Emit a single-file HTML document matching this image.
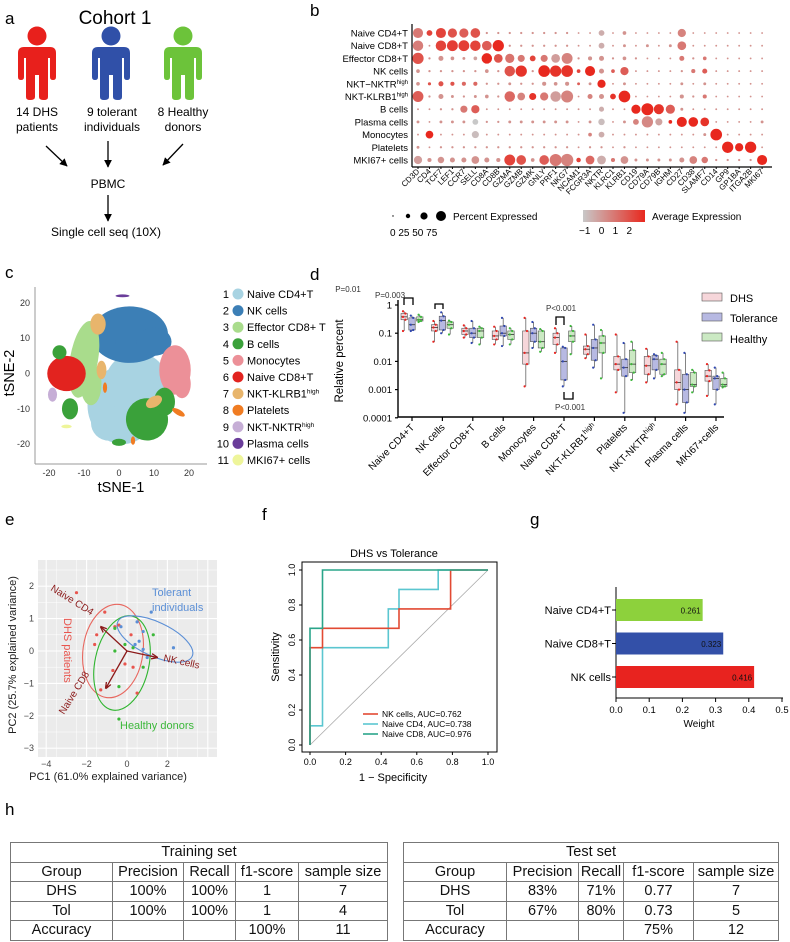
<!DOCTYPE html>
<html><head><meta charset="utf-8">
<style>
body{margin:0;background:#fff;}
#wrap{position:relative;width:790px;height:942px;overflow:hidden;font-family:"Liberation Sans",Arial,sans-serif;}
svg{position:absolute;left:0;top:0;}
svg text{font-family:"Liberation Sans",Arial,sans-serif;}
table{position:absolute;border-collapse:collapse;font-size:14.5px;color:#111;}
td{border:1px solid #777;text-align:center;padding:0;height:18.5px;line-height:18px;white-space:nowrap;}
</style></head>
<body>
<div id="wrap">
<svg id="s" width="790" height="942" viewBox="0 0 790 942">
<defs>
<marker id="ah" viewBox="0 0 10 10" refX="9" refY="5" markerWidth="6" markerHeight="6" orient="auto"><path d="M0,0 L10,5 L0,10 z" fill="#000"/></marker>
<marker id="ah2" viewBox="0 0 10 10" refX="9" refY="5" markerWidth="5" markerHeight="5" orient="auto"><path d="M0,1 L10,5 L0,9" fill="none" stroke="#8b1a1a" stroke-width="2"/></marker>
<linearGradient id="expg" x1="0" x2="1"><stop offset="0" stop-color="#c8c8c8"/><stop offset="1" stop-color="#e8281e"/></linearGradient>
</defs>

<g>
<text x="5" y="24" font-size="17">a</text>
<text x="115" y="24" font-size="19" text-anchor="middle">Cohort 1</text>
<g id="people"></g>
<text x="37" y="116" font-size="12" text-anchor="middle">14 DHS</text>
<text x="37" y="131" font-size="12" text-anchor="middle">patients</text>
<text x="112" y="116" font-size="12" text-anchor="middle">9 tolerant</text>
<text x="112" y="131" font-size="12" text-anchor="middle">individuals</text>
<text x="183" y="116" font-size="12" text-anchor="middle">8 Healthy</text>
<text x="183" y="131" font-size="12" text-anchor="middle">donors</text>
<line x1="46" y1="146" x2="67" y2="166" stroke="#000" stroke-width="1.3" marker-end="url(#ah)"/>
<line x1="108" y1="141" x2="108" y2="167" stroke="#000" stroke-width="1.3" marker-end="url(#ah)"/>
<line x1="183" y1="144" x2="163" y2="165" stroke="#000" stroke-width="1.3" marker-end="url(#ah)"/>
<text x="108" y="188" font-size="12" text-anchor="middle">PBMC</text>
<line x1="108" y1="195" x2="108" y2="221" stroke="#000" stroke-width="1.3" marker-end="url(#ah)"/>
<text x="106" y="236" font-size="12" text-anchor="middle">Single cell seq (10X)</text>
</g>

<g>
<text x="310" y="16" font-size="17">b</text>
<g id="dotplot"></g>
<line x1="412" y1="24" x2="412" y2="167" stroke="#000" stroke-width="1.2"/>
<line x1="412" y1="167" x2="772" y2="167" stroke="#000" stroke-width="1.2"/>
<g>
<circle cx="393" cy="216" r="0.7" fill="#000"/><circle cx="408" cy="216" r="2.2" fill="#000"/><circle cx="424" cy="216" r="3.6" fill="#000"/><circle cx="441" cy="216" r="5" fill="#000"/>
<text x="453" y="220" font-size="10">Percent Expressed</text>
<text x="390" y="236" font-size="10">0 25 50 75</text>
</g>
<g>
<rect x="583" y="210" width="62" height="12" fill="url(#expg)"/>
<text x="652" y="220" font-size="10">Average Expression</text>
<text x="579" y="234" font-size="10">−1&#160;&#160;&#160;0&#160;&#160;&#160;1&#160;&#160;&#160;2</text>
</g>
</g>

<g>
<text x="5" y="278" font-size="17">c</text>
<g id="tsne"></g>
<line x1="35" y1="287" x2="35" y2="464" stroke="#999" stroke-width="1"/>
<line x1="35" y1="464" x2="207" y2="464" stroke="#999" stroke-width="1"/>
<text x="121" y="492" font-size="14.5" text-anchor="middle">tSNE-1</text>
<text transform="translate(14,373) rotate(-90)" font-size="14.5" text-anchor="middle">tSNE-2</text>
<g id="tsneLegend"></g>
</g>

<g>
<text x="310" y="280" font-size="17">d</text>
<g id="boxes"></g>
<text transform="translate(343,361) rotate(-90)" font-size="11.5" text-anchor="middle">Relative percent</text>
<g font-size="11">
<rect x="702" y="293" width="20" height="8" fill="#f6d6da" stroke="#555" stroke-width="0.6"/><text x="730" y="302">DHS</text>
<rect x="702" y="313" width="20" height="8" fill="#b7b9e2" stroke="#555" stroke-width="0.6"/><text x="730" y="322">Tolerance</text>
<rect x="702" y="333" width="20" height="8" fill="#cbe9c3" stroke="#555" stroke-width="0.6"/><text x="730" y="343">Healthy</text>
</g>
<g font-size="8" fill="#333">
<text x="348" y="292" text-anchor="middle">P=0.01</text>
<path d="M404,305 V298 H413 V305" fill="none" stroke="#000" stroke-width="1.3"/>
<text x="390" y="298" text-anchor="middle">P=0.003</text>
<path d="M435,309 V304 H443 V309" fill="none" stroke="#000" stroke-width="1.3"/>
<text x="561" y="311" text-anchor="middle">P&lt;0.001</text>
<path d="M556,325 V317 H564 V325" fill="none" stroke="#000" stroke-width="1.3"/>
<path d="M564,392 V399 H573 V392" fill="none" stroke="#000" stroke-width="1.3"/>
<text x="570" y="410" text-anchor="middle">P&lt;0.001</text>
</g>
</g>

<g>
<text x="5" y="525" font-size="17">e</text>
<g id="pca"></g>
<text x="108" y="780" font-size="11" text-anchor="middle" fill="#222">PC1 (61.0% explained variance)</text>
<text transform="translate(16,655) rotate(-90)" font-size="11" text-anchor="middle" fill="#222">PC2 (25.7% explained variance)</text>
</g>

<g>
<text x="262" y="520" font-size="17">f</text>
<text x="394" y="557" font-size="11" text-anchor="middle">DHS vs Tolerance</text>
<g id="roc"></g>
<text x="393" y="781" font-size="11" text-anchor="middle">1 − Specificity</text>
<text transform="translate(279,657) rotate(-90)" font-size="11" text-anchor="middle">Sensitivity</text>
</g>

<g>
<text x="530" y="525" font-size="17">g</text>
<g id="bars"></g>
<text x="699" y="727" font-size="10" text-anchor="middle">Weight</text>
</g>

<text x="5" y="815" font-size="17">h</text>
</svg>

<table style="left:10px;top:842px;width:378px;">
<tr><td colspan="5">Training set</td></tr>
<tr><td style="width:101px">Group</td><td style="width:70px">Precision</td><td style="width:51px">Recall</td><td style="width:62px">f1-score</td><td>sample size</td></tr>
<tr><td>DHS</td><td>100%</td><td>100%</td><td>1</td><td>7</td></tr>
<tr><td>Tol</td><td>100%</td><td>100%</td><td>1</td><td>4</td></tr>
<tr><td>Accuracy</td><td></td><td></td><td>100%</td><td>11</td></tr>
</table>
<table style="left:403px;top:842px;width:376px;">
<tr><td colspan="5">Test set</td></tr>
<tr><td style="width:102px">Group</td><td style="width:71px">Precision</td><td style="width:44px">Recall</td><td style="width:69px">f1-score</td><td>sample size</td></tr>
<tr><td>DHS</td><td>83%</td><td>71%</td><td>0.77</td><td>7</td></tr>
<tr><td>Tol</td><td>67%</td><td>80%</td><td>0.73</td><td>5</td></tr>
<tr><td>Accuracy</td><td></td><td></td><td>75%</td><td>12</td></tr>
</table>
</div>

<script>
const cellTypes = ["Naive CD4+T","Naive CD8+T","Effector CD8+T","NK cells","NKT\u2212NKTR","NKT-KLRB1","B cells","Plasma cells","Monocytes","Platelets","MKI67+ cells"];
const genes = ["CD3D","CD4","TCF7","LEF1","CCR7","SELL","CD8A","CD8B","GZMA","GZMB","GZMK","GNLY","PRF1","NKG7","NCAM1","FCGR3A","NKTR","KLRC1","KLRB1","CD19","CD79A","CD79B","IGHM","CD27","CD38","SLAMF7","CD14","GP9","GP1BA","ITGA2B","MKI67"];
const pctExpressed = [
[60,20,60,50,50,55,3,3,3,3,3,3,3,3,2,2,20,2,8,2,2,2,2,40,2,2,2,2,2,2,2],
[65,2,65,70,70,65,55,75,3,3,3,3,3,3,2,2,20,2,5,2,5,2,5,45,2,2,2,2,2,2,2],
[75,3,15,8,5,8,65,45,50,30,20,30,45,70,3,10,15,3,8,3,2,2,2,15,3,8,2,2,2,2,2],
[8,3,3,3,3,3,8,3,65,75,3,80,75,80,8,60,15,8,40,2,2,2,2,3,10,15,2,2,2,2,2],
[8,6,15,10,10,10,3,3,5,3,3,10,8,10,5,5,40,2,5,2,2,2,2,5,2,5,2,2,2,2,2],
[70,3,15,5,3,5,8,3,65,35,30,40,65,85,2,15,15,20,80,2,2,2,2,10,3,10,2,2,2,2,2],
[2,2,3,3,30,40,2,2,2,2,2,2,2,2,2,2,15,2,2,50,85,60,50,5,2,2,2,2,2,2,2],
[5,2,5,5,5,20,3,3,5,5,5,5,5,5,2,5,25,2,5,20,75,30,8,60,55,45,2,2,2,2,5],
[2,35,2,2,2,30,2,2,2,2,2,2,2,2,2,8,20,2,2,2,2,2,2,2,2,5,80,2,2,2,2],
[5,2,3,3,3,3,3,3,3,3,3,3,3,3,2,3,3,2,3,2,2,2,2,2,2,2,2,75,40,75,2],
[40,10,25,15,15,35,15,10,70,55,8,55,85,90,12,45,45,10,35,5,5,5,5,15,35,25,3,3,3,3,60]];
const avgExpression = [
[0.5,1.5,1.5,1.2,1,1.2,0,0,0,0,0,0,0,0,0,0,-0.5,0,0,0,0,0,0,0.3,0,0,0,0,0,0,0],
[0.4,0,1.5,1.6,1.6,1.5,1,2,0,0,0,0,0,0,0,0,-0.5,0,0,0,0,0,0,0.5,0,0,0,0,0,0,0],
[1.2,0,0,0,0,-0.3,2,1.2,0.6,0.5,1.5,0.5,-0.2,0.3,0,0,0,0,0,0,0,0,0,0.5,0,0.5,0,0,0,0,0],
[0,0,0,0,0,0,0,0,1.2,1.8,0,2,1.8,1.8,1.5,2,0,1,1,0,0,0,0,0,0.5,1,0,0,0,0,0],
[0,1.2,1.2,1.2,0.8,0.8,0,0,0,0,0,0,0,0,1,0,2,0,0,0,0,0,0,0,0,0,0,0,0,0,0],
[1,0,0,0,0,0,0,0,0.8,0.3,1.8,0.5,-0.2,0.3,0,0.3,0,1.8,2,0,0,0,0,0,0,0.5,0,0,0,0,0],
[0,0,0,0,0.5,1,0,0,0,0,0,0,0,0,0,0,-0.5,0,0,2,2,1.8,1,0,0,0,0,0,0,0,0],
[0,0,0,0,0,-1,0,0,0,0,0,0,0,0,0,0,-0.8,0,0,0.3,0.2,-0.3,2,2,2,1.8,0,0,0,0,0],
[0,2,0,0,0,-0.8,0,0,0,0,0,0,0,0,0,0.3,-0.5,0,0,0,0,0,0,0,0,0,2,0,0,0,0],
[0,0,0,0,0,0,0,0,0,0,0,0,0,0,0,0,0,0,0,0,0,0,0,0,0,0,0,2,2,2,0],
[-0.2,0,0,0,0,0,0,0,1.5,1.2,0,1,0.5,0.3,1.5,0.8,-0.5,0.5,0,0,0,0,0,0,0.3,0.5,0,0,0,0,2]];

const tsneNames = ["Naive CD4+T","NK cells","Effector CD8+ T","B cells","Monocytes","Naive CD8+T","NKT-KLRB1","Platelets","NKT-NKTR","Plasma cells","MKI67+ cells"];
const tsneColors = ["#a8d3e2","#3c7fb6","#a9dc8c","#3aa13a","#ec9098","#e2231f","#e8b56c","#f07c22","#c6aed6","#6a3d9a","#eef59a"];
const tsneTicksX = [-20,-10,0,10,20];
const tsneTicksY = [20,10,0,-10,-20];
const tsneBlobCluster = [0,0,0,0,1,1,1,2,2,5,4,4,3,3,3,3,3,6,6,6,7,7,7,8,9,10];
const tsneBlobX = [1,5,6,-3,3,10,-4,-10,-8,-15,16,18,8,-14,-17,0,13,-6,-5,10,-4,4,17,-19,1,-15];
const tsneBlobY = [-9,-3,-9,-14,11,9,9,4,-3,0,1,-3,-13,-10,6,-19.5,-8,14,1,-8,-4,-19,-11,-6,22,-15];
const tsneBlobRX = [10,9,6,5,11,5,3,4,3,5.5,4.5,2.5,6,2.3,2,2,3,2.2,1.4,2.5,0.6,0.6,0.8,1.3,2,1.5];
const tsneBlobRY = [11,9,8,5,8,4,3,11,6,5,7,4,6,3,2,1,4,3,2.6,1.5,1.5,1.2,2,2,0.4,0.5];
const tsneBlobAngle = [0,0,0,0,0,0,0,10,0,0,0,0,-30,0,0,0,0,0,0,-30,0,0,-60,0,0,0];

const boxCategories = ["Naive CD4+T","NK cells","Effector CD8+T","B cells","Monocytes","Naive CD8+T","NKT-KLRB1","Platelets","NKT-NKTR","Plasma cells","MKI67+cells"];
const boxSup = [false,false,false,false,false,false,true,false,true,false,false];
const boxTicks = [1,0.1,0.01,0.001,0.0001];
const boxTickLabels = ["1","0.1","0.01","0.001","0.0001"];
const dhsStats = [[0.12,0.3,0.38,0.5,0.6],[0.05,0.12,0.16,0.2,0.27],[0.07,0.09,0.12,0.15,0.19],[0.04,0.06,0.08,0.12,0.17],[0.0013,0.008,0.02,0.12,0.35],[0.02,0.04,0.07,0.1,0.15],[0.013,0.018,0.027,0.035,0.09],[0.0008,0.005,0.008,0.015,0.09],[0.0018,0.0035,0.007,0.015,0.028],[0.0003,0.001,0.0018,0.005,0.05],[0.0006,0.002,0.003,0.0048,0.008]];
const tolStats = [[0.12,0.13,0.2,0.35,0.42],[0.1,0.13,0.28,0.4,0.55],[0.045,0.07,0.1,0.15,0.27],[0.035,0.08,0.1,0.18,0.35],[0.03,0.05,0.1,0.15,0.25],[0.0013,0.0022,0.01,0.03,0.033],[0.006,0.011,0.03,0.06,0.2],[0.00015,0.003,0.006,0.012,0.045],[0.0025,0.005,0.012,0.016,0.018],[0.00015,0.00035,0.001,0.0035,0.02],[0.0003,0.001,0.0025,0.003,0.006]];
const healthyStats = [[0.25,0.27,0.3,0.38,0.45],[0.09,0.15,0.2,0.25,0.28],[0.04,0.07,0.12,0.15,0.17],[0.04,0.06,0.09,0.12,0.15],[0.022,0.03,0.05,0.12,0.14],[0.018,0.05,0.08,0.12,0.18],[0.0025,0.02,0.045,0.08,0.13],[0.0022,0.004,0.008,0.025,0.05],[0.003,0.0035,0.008,0.012,0.02],[0.0008,0.0013,0.0015,0.004,0.005],[0.0012,0.0013,0.0015,0.0025,0.004]];

const pcaTicksX = [-4,-2,0,2];
const pcaTicksY = [2,1,0,-1,-2,-3];
const dhsPC1 = [-2.5,-1.1,-1.5,-1.6,-0.4,0.2,-0.7,-1.0,-0.1,0.3,0.5,-1.3,-0.6];
const dhsPC2 = [1.8,1.2,0.5,0.2,0.8,0.5,-0.6,-1.1,-0.4,-0.5,-1.3,-1.2,0.75];
const tolPC1 = [1.2,0.5,0.8,0.4,2.3,0.6,-0.3,0.8,1.0];
const tolPC2 = [1.2,0.9,0.6,0.2,0.1,0.3,0.75,0.05,-0.2];
const healthyPC1 = [-0.6,-0.1,-0.6,1.3,0.8,-0.4,-0.4,0.3];
const healthyPC2 = [0.7,0.2,0.0,0.5,-0.5,-1.1,-2.1,0.1];
const loadingNames = ["Naive CD4","NK cells","Naive CD8"];
const loadingPC1 = [-1.3,1.5,-1.05];
const loadingPC2 = [0.75,-0.2,-1.15];

const rocTicks = [0,0.2,0.4,0.6,0.8,1.0];
const rocNames = ["NK cells, AUC=0.762","Naive CD4, AUC=0.738","Naive CD8, AUC=0.976"];
const rocColors = ["#e24a33","#5bc6d0","#2aa58a"];
const rocNKx = [0,0,0.07,0.07,0.5,0.5,0.79,0.79,1];
const rocNKy = [0,0.556,0.556,0.667,0.667,0.778,0.778,1,1];
const rocCD4x = [0,0,0.07,0.07,0.44,0.44,0.5,0.5,0.72,0.72,1];
const rocCD4y = [0,0.11,0.11,0.556,0.556,0.778,0.778,0.889,0.889,1,1];
const rocCD8x = [0,0,0.07,0.07,1];
const rocCD8y = [0,0.667,0.667,1,1];

const barCategories = ["Naive CD4+T","Naive CD8+T","NK cells"];
const barWeights = [0.261,0.323,0.416];
const barColors = ["#8dd13c","#3350a8","#e8231f"];
const barTicks = [0,0.1,0.2,0.3,0.4,0.5];

const NS = "http://www.w3.org/2000/svg";
function mk(parent, tag, attrs, txt){
  const el = document.createElementNS(NS, tag);
  for (const k in attrs) el.setAttribute(k, attrs[k]);
  if (txt !== undefined) el.textContent = txt;
  parent.appendChild(el);
  return el;
}
function $(id){return document.getElementById(id);}

(function(){
  const g = $("people");
  const cols = ["#e8201c","#3050a8","#6cc33a"];
  const cx = [37,111,183];
  for (let i=0;i<3;i++){
    const c = cx[i];
    const head = mk(g,"circle",{cx:c,cy:36,r:9.5,fill:cols[i]});
    
    
    const d = `M${c-13},47 H${c+13} Q${c+19},47 ${c+19},53 V77 Q${c+19},80 ${c+16},80 Q${c+13},80 ${c+13},77 V58 H${c+11} V97 Q${c+11},100 ${c+7},100 Q${c+2},100 ${c+2},97 V75 H${c-2} V97 Q${c-2},100 ${c-7},100 Q${c-11},100 ${c-11},97 V58 H${c-13} V77 Q${c-13},80 ${c-16},80 Q${c-19},80 ${c-19},77 V53 Q${c-19},47 ${c-13},47 Z`;
    const body = mk(g,"path",{d:d,fill:cols[i]});
    
    
  }
})();

(function(){
  const g = $("dotplot");
  const x = j => 418 + j*11.47;
  const y = i => 33 + i*12.7;
  const col = e => {
    const t = Math.max(0,Math.min(1,(e+1)/3));
    const r = Math.round(200+32*t), gg = Math.round(200-160*t), b = Math.round(200-170*t);
    return `rgb(${r},${gg},${b})`;
  };
  cellTypes.forEach((ct,i)=>{
    const t = mk(g,"text",{x:408,y:y(i)+3.5,"font-size":9.5,"text-anchor":"end"});
    
    
    t.textContent = ct;
    if (i===4 || i===5){ mk(t,"tspan",{"font-size":6,dy:-3.5},"high"); }
    genes.forEach((gn,j)=>{
      const p = pctExpressed[i][j];
      const r = Math.max(0.7, 6*Math.sqrt(p/85));
      const c = mk(g,"circle",{cx:x(j),cy:y(i),r:r.toFixed(2),fill:col(avgExpression[i][j])});
      
      
    });
  });
  genes.forEach((gn,j)=>{
    const t = mk(g,"text",{transform:`translate(${x(j)+2},${172}) rotate(-45)`,"font-size":8,"text-anchor":"end"},gn);
    
    
    const tk = mk(g,"line",{x1:x(j),x2:x(j),y1:167,y2:169,stroke:"#000"});
    
    
  });
})();

(function(){
  const g = $("tsne");
  const x = v => 119 + v*3.5;
  const y = v => 373.5 - v*3.53;
  tsneBlobCluster.forEach((ci,k)=>{
    const e = mk(g,"ellipse",{cx:x(tsneBlobX[k]),cy:y(tsneBlobY[k]),rx:tsneBlobRX[k]*3.5,ry:tsneBlobRY[k]*3.53,fill:tsneColors[ci],
      transform:`rotate(${tsneBlobAngle[k]} ${x(tsneBlobX[k])} ${y(tsneBlobY[k])})`});
    
    
  });
  tsneTicksX.forEach(v=>{
    const t = mk(g,"text",{x:x(v),y:476,"font-size":9,"text-anchor":"middle",fill:"#333"},String(v));
    
    
  });
  tsneTicksY.forEach(v=>{
    const t = mk(g,"text",{x:30,y:y(v)+3,"font-size":9,"text-anchor":"end",fill:"#333"},String(v));
    
    
  });
  const lg = $("tsneLegend");
  tsneNames.forEach((n,i)=>{
    const yy = 294 + i*16.6;
    const num = mk(lg,"text",{x:229,y:yy+4,"font-size":11,"text-anchor":"end"},String(i+1));
    
    
    const c = mk(lg,"circle",{cx:238,cy:yy,r:5.5,fill:tsneColors[i]});
    
    
    const t = mk(lg,"text",{x:247,y:yy+4,"font-size":11},n);
    
    
    if (i===6 || i===8){ mk(t,"tspan",{"font-size":6.5,dy:-4},"high"); }
  });
})();

(function(){
  const g = $("boxes");
  const y = v => 305 - 28.2*Math.log10(v);
  const cx = i => 412 + i*30.4;
  const ax = mk(g,"path",{d:"M398,300 V417 H724",fill:"none",stroke:"#000","stroke-width":1.4});
  
  
  boxTicks.forEach((v,k)=>{
    const tk = mk(g,"line",{x1:395,x2:398,y1:y(v),y2:y(v),stroke:"#000","stroke-width":1.2});
    
    
    const t = mk(g,"text",{x:392,y:y(v)+3.5,"font-size":9.5,"text-anchor":"end"},boxTickLabels[k]);
    
    
  });
  const sets = [dhsStats,tolStats,healthyStats];
  const fills = ["#f6d6da","#b7b9e2","#cbe9c3"];
  const pts = ["#e8231f","#2f47b0","#3cb83a"];
  const offs = [-7.8,0,7.8];
  boxCategories.forEach((cat,i)=>{
    const tk = mk(g,"line",{x1:cx(i),x2:cx(i),y1:417,y2:421,stroke:"#000","stroke-width":1.2});
    
    
    const t = mk(g,"text",{transform:`translate(${cx(i)+3},${428}) rotate(-45)`,"font-size":10,"text-anchor":"end"},cat);
    
    
    if (boxSup[i]){ mk(t,"tspan",{"font-size":7,dy:-4},"high"); }
    sets.forEach((s,k)=>{
      const st = s[i], xc = cx(i)+offs[k];
      const w = mk(g,"line",{x1:xc,x2:xc,y1:y(st[0]),y2:y(st[4]),stroke:"#666","stroke-width":0.8});
      
      
      const r = mk(g,"rect",{x:xc-3.2,y:y(st[3]),width:6.4,height:Math.max(0.5,y(st[1])-y(st[3])),fill:fills[k],stroke:"#555","stroke-width":0.6});
      
      
      const m = mk(g,"line",{x1:xc-3.2,x2:xc+3.2,y1:y(st[2]),y2:y(st[2]),stroke:"#333","stroke-width":0.8});
      
      
      st.forEach((v,q)=>{
        const p = mk(g,"circle",{cx:xc+(q%2?1.2:-1.2),cy:y(v),r:1.1,fill:pts[k]});
        
        
      });
    });
  });
})();

(function(){
  const g = $("pca");
  const x = v => 127 + v*20.2;
  const y = v => 651 - v*32.4;
  const bg = mk(g,"rect",{x:38,y:560,width:179,height:197,fill:"#ebebeb"});
  
  
  for (let v=-4.5; v<=4.5; v+=1){
    const gl = mk(g,"line",{x1:x(v),x2:x(v),y1:560,y2:757,stroke:"#fff","stroke-width":0.5});
    
    
  }
  for (let v=-4; v<=4; v+=2){
    const gl = mk(g,"line",{x1:x(v),x2:x(v),y1:560,y2:757,stroke:"#fff","stroke-width":1.1});
    
    
  }
  for (let v=-3.5; v<=3; v+=0.5){
    const gl = mk(g,"line",{x1:38,x2:217,y1:y(v),y2:y(v),stroke:"#fff","stroke-width":Number.isInteger(v)?1.1:0.5});
    
    
  }
  pcaTicksX.forEach(v=>{
    const t = mk(g,"text",{x:x(v),y:767,"font-size":9,"text-anchor":"middle",fill:"#444"},v<0?"\u2212"+(-v):String(v));
    
    
  });
  pcaTicksY.forEach(v=>{
    const t = mk(g,"text",{x:34,y:y(v)+3,"font-size":9,"text-anchor":"end",fill:"#444"},v<0?"\u2212"+(-v):String(v));
    
    
  });
  const ells = [[113,651,30,47,8,"#e8675f"],[122,663,27,48,12,"#2fb52f"],[155,639,41,17,25,"#5b8fd6"]];
  ells.forEach(e=>{
    const el = mk(g,"ellipse",{cx:e[0],cy:e[1],rx:e[2],ry:e[3],transform:`rotate(${e[4]} ${e[0]} ${e[1]})`,fill:"none",stroke:e[5],"stroke-width":1.1});
    
    
  });
  const groups = [[dhsPC1,dhsPC2,"#e8554e"],[tolPC1,tolPC2,"#5b8fd6"],[healthyPC1,healthyPC2,"#3cb83a"]];
  groups.forEach(gr=>{
    gr[0].forEach((v,k)=>{
      const p = mk(g,"circle",{cx:x(v),cy:y(gr[1][k]),r:1.6,fill:gr[2]});
      
      
    });
  });
  loadingNames.forEach((n,k)=>{
    const a = mk(g,"line",{x1:x(0),y1:y(0),x2:x(loadingPC1[k]),y2:y(loadingPC2[k]),stroke:"#8b1a1a","stroke-width":1.3,"marker-end":"url(#ah2)"});
    
    
  });
  const lbls = [["Naive CD4",50,590,32],["NK cells",163,661,12],["Naive CD8",64,715,-58]];
  lbls.forEach(l=>{
    const t = mk(g,"text",{transform:`translate(${l[1]},${l[2]}) rotate(${l[3]})`,"font-size":10,fill:"#8b1a1a"},l[0]);
    
    
  });
  const t1 = mk(g,"text",{x:152,y:596,"font-size":11,fill:"#5b8fd6"},"Tolerant");
  
  
  const t2 = mk(g,"text",{x:152,y:611,"font-size":11,fill:"#5b8fd6"},"individuals");
  
  
  const t3 = mk(g,"text",{transform:"translate(64,618) rotate(90)","font-size":11,fill:"#e8554e"},"DHS patients");
  
  
  const t4 = mk(g,"text",{x:120,y:729,"font-size":11,fill:"#3cb83a"},"Healthy donors");
  
  
})();

(function(){
  const g = $("roc");
  const x = v => 310 + v*178;
  const y = v => 745 - v*175;
  const box = mk(g,"rect",{x:302,y:562,width:195,height:190,fill:"none",stroke:"#000","stroke-width":1});
  
  
  const dg = mk(g,"line",{x1:x(0),y1:y(0),x2:x(1),y2:y(1),stroke:"#aaa","stroke-width":0.8});
  
  
  rocTicks.forEach(v=>{
    const t = mk(g,"text",{x:x(v),y:765,"font-size":9,"text-anchor":"middle"},v.toFixed(1));
    
    
    const t2 = mk(g,"text",{transform:`translate(295,${y(v)}) rotate(-90)`,"font-size":9,"text-anchor":"middle"},v.toFixed(1));
    
    
    const a = mk(g,"line",{x1:x(v),x2:x(v),y1:752,y2:755,stroke:"#000"});
    
    
    const b = mk(g,"line",{x1:299,x2:302,y1:y(v),y2:y(v),stroke:"#000"});
    
    
  });
  const curves = [[rocCD4x,rocCD4y,1],[rocNKx,rocNKy,0],[rocCD8x,rocCD8y,2]];
  curves.forEach(c=>{
    const pts = c[0].map((v,k)=>x(v).toFixed(1)+","+y(c[1][k]).toFixed(1)).join(" ");
    const pl = mk(g,"polyline",{points:pts,fill:"none",stroke:rocColors[c[2]],"stroke-width":1.6});
    
    
  });
  rocNames.forEach((n,k)=>{
    const yy = 717 + k*10;
    const l = mk(g,"line",{x1:363,x2:378,y1:yy-3,y2:yy-3,stroke:rocColors[k],"stroke-width":1.6});
    
    
    const t = mk(g,"text",{x:382,y:yy,"font-size":8.5},n);
    
    
  });
})();

(function(){
  const g = $("bars");
  const x = v => 616 + v*332;
  const ax = mk(g,"path",{d:"M616,587 V698 H783",fill:"none",stroke:"#000","stroke-width":1});
  
  
  barCategories.forEach((c,i)=>{
    const y0 = 599 + i*33.5;
    const r = mk(g,"rect",{x:616,y:y0,width:x(barWeights[i])-616,height:22,fill:barColors[i]});
    
    
    const v = mk(g,"text",{x:x(barWeights[i])-2,y:y0+14.5,"font-size":8,"text-anchor":"end",fill:"#111"},barWeights[i].toFixed(3));
    
    
    const t = mk(g,"text",{x:611,y:y0+15,"font-size":11,"text-anchor":"end"},c);
    
    
    const tk = mk(g,"line",{x1:612,x2:616,y1:y0+11,y2:y0+11,stroke:"#000"});
    
    
  });
  barTicks.forEach(v=>{
    const tk = mk(g,"line",{x1:x(v),x2:x(v),y1:698,y2:702,stroke:"#000"});
    
    
    const t = mk(g,"text",{x:x(v),y:713,"font-size":9.5,"text-anchor":"middle"},v.toFixed(1));
    
    
  });
})();
</script>
</body></html>
